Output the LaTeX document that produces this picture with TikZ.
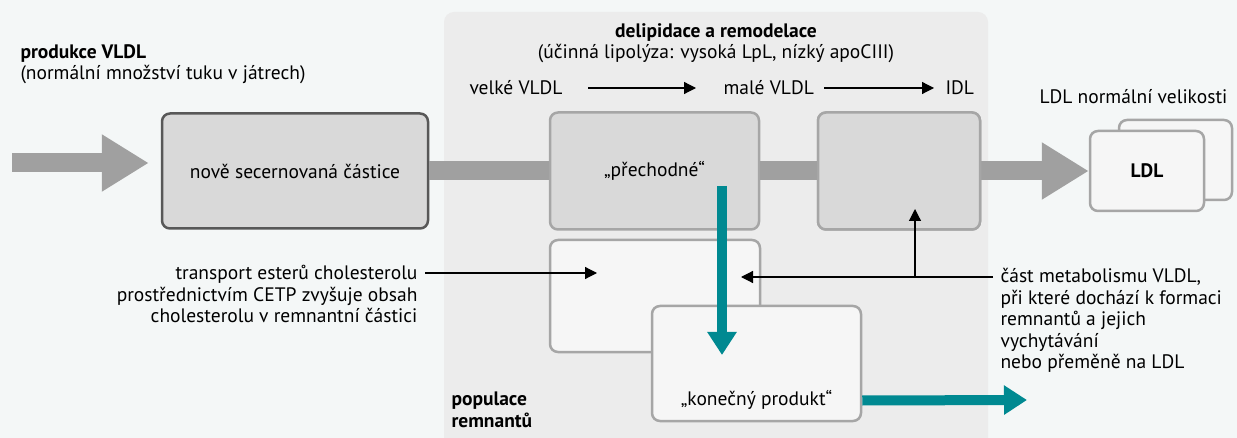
\documentclass[tikz,border=0pt]{standalone}
\usepackage{fontspec}
\setmainfont{PT Sans}
\usetikzlibrary{arrows.meta}
\definecolor{pageBg}{RGB}{244,247,247}
\definecolor{panelBg}{RGB}{236,236,236}
\definecolor{boxDark}{RGB}{217,217,217}
\definecolor{boxLight}{RGB}{246,246,246}
\definecolor{edgeGray}{RGB}{166,166,166}
\definecolor{edgeDark}{RGB}{88,88,88}
\definecolor{flowGray}{RGB}{160,160,160}
\definecolor{flowTeal}{RGB}{0,137,145}

\begin{document}
\begin{tikzpicture}[x=1pt, y=-1pt, font=\fontsize{19.5}{21.5}\selectfont]
\tikzstyle{darkBox}=[draw=edgeDark, line width=2.5pt, fill=boxDark, rounded corners=8pt]
\tikzstyle{grayBox}=[draw=edgeGray, line width=2.5pt, fill=boxDark, rounded corners=8pt]
\tikzstyle{lightBox}=[draw=edgeGray, line width=2.5pt, fill=boxLight, rounded corners=8pt]
\tikzstyle{band}=[draw=flowGray, line width=19pt]
\tikzstyle{bigArrow}=[band, -{Triangle[width=54pt,length=47pt]}]
\tikzstyle{tealArrow}=[draw=flowTeal, line width=10pt, -{Triangle[width=28pt,length=23pt]}]
\tikzstyle{thinArrow}=[draw=black, line width=1.2pt, -{Triangle[width=12pt,length=12pt]}]
\useasboundingbox (0,0) rectangle (1237,438);
\fill[pageBg] (0,0) rectangle (1237,438);
\fill[panelBg, rounded corners=10pt] (444,12) rectangle (988,460);

% boxes
\node[darkBox, minimum width=266pt, minimum height=115pt] (nove) at (295,171) {nově secernovaná částice};
\node[grayBox, minimum width=209pt, minimum height=117pt] (prech) at (654.5,171) {„přechodné“};
\node[grayBox, minimum width=162pt, minimum height=117pt] (idl) at (899,171) {};
\node[lightBox, minimum width=113pt, minimum height=80pt] (ldlB) at (1175.5,160) {};
\node[lightBox, minimum width=114pt, minimum height=80pt] (ldlA) at (1147,171) {\textbf{LDL}};

% flow between boxes
\coordinate (vstup) at (12,163);
\draw[bigArrow, shorten >=12pt] (vstup) -- (nove.west |- vstup);
\draw[band] (nove.east) -- (prech.west);
\draw[band] (prech.east) -- (idl.east);
\draw[bigArrow] (idl.east) -- (ldlA.west);
\node[grayBox, minimum width=162pt, minimum height=117pt] at (idl) {};

% remnant boxes
\node[lightBox, minimum width=210pt, minimum height=112pt] (remA) at (655,296) {};
\node[lightBox, minimum width=209pt, minimum height=115pt] (kon) at (756.5,363.5) {};
\node (konText) at (756.5,400) {„konečný produkt“};

% labels
\node[anchor=west, align=left] (prod) at (17,64) {\textbf{produkce VLDL}\\(normální množství tuku v játrech)};
\node[align=center] (deli) at (716,43) {\textbf{delipidace a remodelace}\\(účinná lipolýza: vysoká LpL, nízký apoCIII)};
\node[anchor=west] (velke) at (466,88) {velké VLDL};
\node[anchor=west] (male) at (720,88) {malé VLDL};
\node[anchor=west] (idlText) at (942,88) {IDL};
\node[anchor=west] (ldlText) at (1036,97) {LDL normální velikosti};
\node[anchor=east, align=right] (cetp) at (421,294) {transport esterů cholesterolu\\prostřednictvím CETP zvyšuje obsah\\cholesterolu v remnantní částici};
\node[anchor=north west, align=left] (metab) at (997,265) {část metabolismu VLDL,\\při které dochází k formaci\\remnantů a jejich\\vychytávání\\nebo přeměně na LDL};
\node[anchor=west, align=left] (popul) at (448,410) {\textbf{populace}\\\textbf{remnantů}};

% arrows
\draw[thinArrow, shorten <=22pt, shorten >=24pt] (velke.east) -- (male.west);
\draw[thinArrow, shorten <=7pt, shorten >=8pt] (male.east) -- (idlText.west);
\coordinate (cetpIn) at (597,273);
\draw[thinArrow, shorten <=4pt] (cetp.east |- cetpIn) -- (cetpIn);
\coordinate (remIn) at (741,277);
\coordinate (branch) at (915,277);
\coordinate (idlIn) at (915,209);
\draw[thinArrow, shorten <=4pt] (metab.west |- remIn) -- (remIn);
\draw[thinArrow] (branch) -- (idlIn);
\coordinate (tStart) at (722,186);
\coordinate (tEnd) at (722,355);
\coordinate (tOut) at (1027,400);
\draw[tealArrow] (tStart) -- (tEnd);
\draw[tealArrow] ([yshift=-37pt]kon.east) -- (tOut);
\end{tikzpicture}
\end{document}
